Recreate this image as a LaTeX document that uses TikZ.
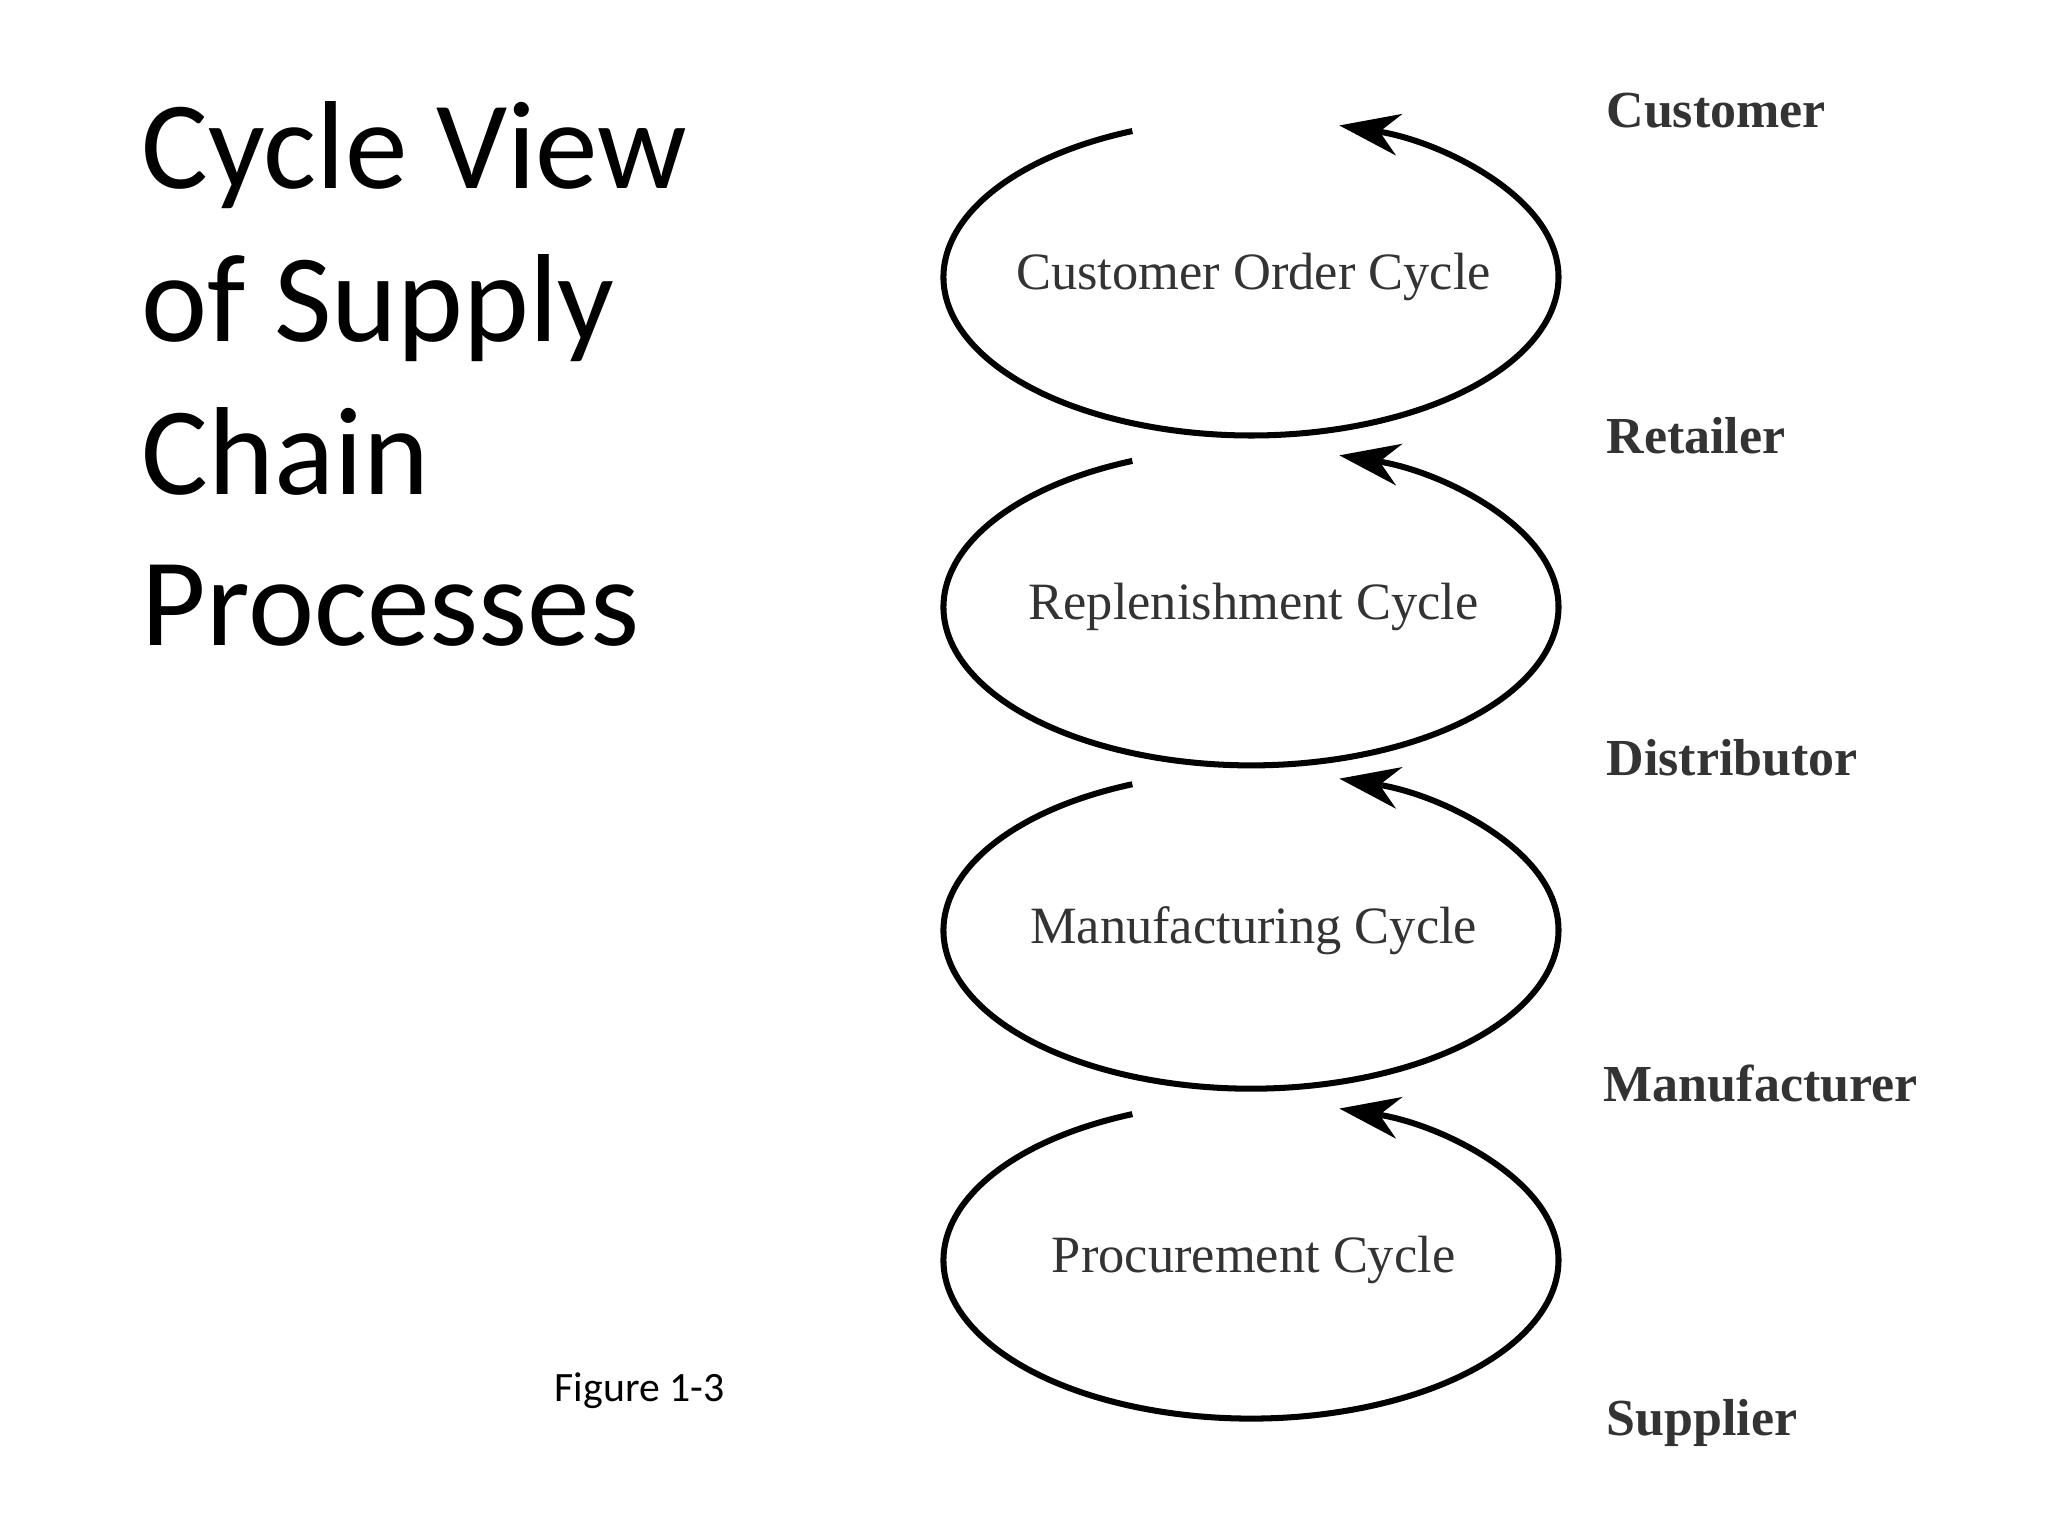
\documentclass[tikz,border=0pt]{standalone}
\usepackage{fontspec}
\setmainfont{Liberation Serif}
\newfontfamily\calib{Carlito}
\usetikzlibrary{arrows.meta}
\begin{document}
\begin{tikzpicture}[x=0.01cm,y=-0.01cm,
  cyc/.style={line width=1.3pt,-{Stealth[length=13pt,width=9pt]}},
  ctext/.style={font=\fontsize{11.3}{13}\selectfont,text=black!80},
  lab/.style={anchor=base west,font=\bfseries\fontsize{11.2}{13}\selectfont,text=black!80},
  title/.style={anchor=base west,font=\calib\fontsize{27}{30}\selectfont}]
\useasboundingbox (0,0) rectangle (1552,1164);
\foreach \n/\cy/\t in {a/210/Customer Order Cycle,b/460/Replenishment Cycle,c/705/Manufacturing Cycle,d/955/Procurement Cycle}{
  \coordinate (\n) at (948,\cy);
  \draw[cyc] (\n) ++(112.7:233 and -120) arc[start angle=112.7,end angle=433.3,x radius=233,y radius=-120];
  \node[ctext] (\n t) at (950,\cy) {\t};
}
\node[lab] (l1) at (1205,97) {Customer};
\node[lab] (l2) at (1205,344) {Retailer};
\node[lab] (l3) at (1205,588) {Distributor};
\node[lab] (l4) at (1203,835) {Manufacturer};
\node[lab] (l5) at (1205,1088) {Supplier};
\node[title] (t1) at (95,143) {Cycle View};
\node[title] (t2) at (95,259) {of Supply};
\node[title] (t3) at (95,375) {Chain};
\node[title] (t4) at (95,489) {Processes};
\node[anchor=base west,font=\calib\fontsize{9}{10}\selectfont] (fig) at (408,1062) {Figure 1-3};
\end{tikzpicture}
\end{document}
